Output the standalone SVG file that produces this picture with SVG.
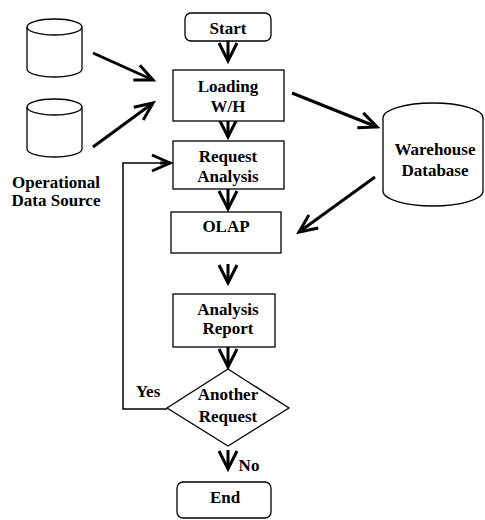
<svg xmlns="http://www.w3.org/2000/svg" width="485" height="520" viewBox="0 0 485 520">
<style>
.box{fill:#fff;stroke:#000;stroke-width:1.3}
.cyl{fill:#fff;stroke:#000;stroke-width:1.3}
.t{font-family:"Liberation Serif","Times New Roman",serif;font-weight:bold;font-size:17px;text-anchor:middle;fill:#000}
.c{fill:none;stroke:#000;stroke-width:3}
.l{fill:none;stroke:#000;stroke-width:1.5}
</style>
<defs>
<marker id="ah" markerUnits="userSpaceOnUse" orient="auto" refX="0" refY="0" overflow="visible" markerWidth="20" markerHeight="20">
<path d="M-18,-8 L0,0 L-18,8" fill="none" stroke="#000" stroke-width="3"/>
</marker>
<marker id="av" markerUnits="userSpaceOnUse" orient="auto" refX="0" refY="0" overflow="visible" markerWidth="20" markerHeight="20">
<path d="M-18,-9 L0,0 L-18,9" fill="none" stroke="#000" stroke-width="3"/>
</marker>
</defs>
<rect width="485" height="520" fill="#fff"/>
<g id="connectors">
<line class="c" x1="93" y1="53" x2="153" y2="80" marker-end="url(#ah)"/>
<line class="c" x1="93" y1="147" x2="153" y2="103" marker-end="url(#ah)"/>
<line class="c" x1="292" y1="93" x2="377" y2="127" marker-end="url(#ah)"/>
<line class="c" x1="375" y1="177" x2="299" y2="232" marker-end="url(#ah)"/>
<line class="c" x1="228" y1="41" x2="228" y2="61" marker-end="url(#av)"/>
<line class="c" x1="228" y1="121" x2="228" y2="137" marker-end="url(#av)"/>
<line class="c" x1="228" y1="189" x2="228" y2="209" marker-end="url(#av)"/>
<line class="c" x1="228" y1="264" x2="228" y2="283" marker-end="url(#av)"/>
<line class="c" x1="228" y1="347" x2="228" y2="367" marker-end="url(#av)"/>
<line class="c" x1="228" y1="450" x2="228" y2="469" marker-end="url(#av)"/>
<polyline class="l" points="167,409 123,409 123,163 168,163"/>
<line class="c" x1="160" y1="163" x2="170" y2="163" marker-end="url(#ah)"/>
<text class="t" x="148" y="397">Yes</text>
<text class="t" x="249" y="471">No</text>
</g>
<g id="ods1">
<path class="cyl" d="M27,27 A27.5,8 0 0 1 82,27 L82,69 A27.5,8 0 0 1 27,69 Z"/>
<path class="cyl" d="M27,27 A27.5,8 0 0 0 82,27" fill="none"/>
</g>
<g id="ods2">
<path class="cyl" d="M27,107 A27.5,8 0 0 1 82,107 L82,149 A27.5,8 0 0 1 27,149 Z"/>
<path class="cyl" d="M27,107 A27.5,8 0 0 0 82,107" fill="none"/>
</g>
<g id="ods-label">
<text class="t" x="56" y="188">Operational</text>
<text class="t" x="56" y="206">Data Source</text>
</g>
<g id="warehouse">
<path class="cyl" d="M383,118 A50,15 0 0 1 483,118 L483,191 A50,15 0 0 1 383,191 Z"/>
<text class="t" x="435" y="155">Warehouse</text>
<text class="t" x="435" y="176">Database</text>
</g>
<g id="start">
<rect class="box" x="185" y="13" width="86" height="28" rx="6"/>
<text class="t" x="228" y="34">Start</text>
</g>
<g id="loading">
<rect class="box" x="173" y="70" width="111" height="51"/>
<text class="t" x="228" y="92">Loading</text>
<text class="t" x="228" y="112">W/H</text>
</g>
<g id="request">
<rect class="box" x="173" y="141" width="111" height="48"/>
<text class="t" x="228" y="162">Request</text>
<text class="t" x="228" y="182">Analysis</text>
</g>
<g id="olap">
<rect class="box" x="171" y="212" width="110" height="41"/>
<text class="t" x="226" y="232">OLAP</text>
</g>
<g id="report">
<rect class="box" x="173" y="294" width="102" height="53"/>
<text class="t" x="228" y="315">Analysis</text>
<text class="t" x="228" y="334">Report</text>
</g>
<g id="decision">
<polygon class="box" points="228,369 289,408 228,446 167,408"/>
<text class="t" x="228" y="400">Another</text>
<text class="t" x="228" y="422">Request</text>
</g>
<g id="end">
<rect class="box" x="177" y="482" width="94" height="36" rx="6"/>
<text class="t" x="225" y="503">End</text>
</g>
</svg>
